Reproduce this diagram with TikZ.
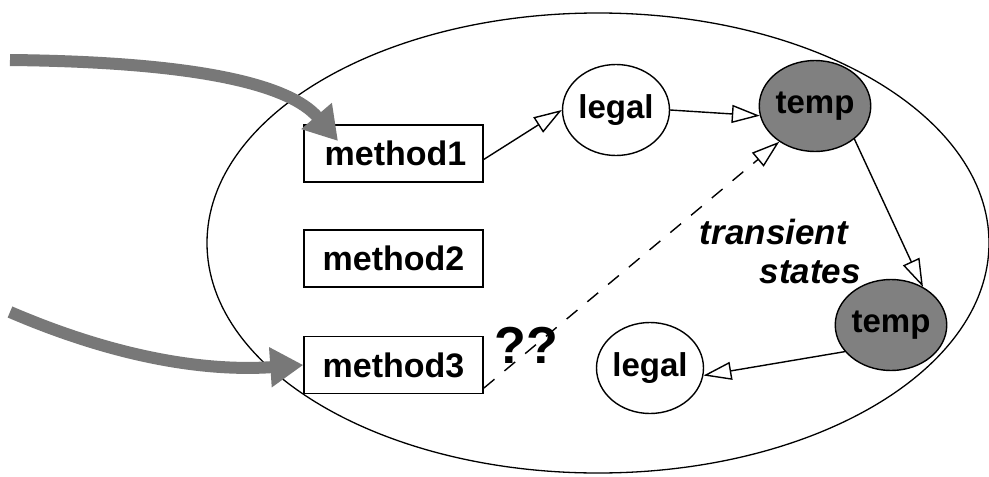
\documentclass[tikz,border=0pt]{standalone}
\usepackage{fontspec}
\setmainfont{Liberation Sans}
\usetikzlibrary{arrows.meta,shapes.geometric}
\definecolor{stategray}{RGB}{128,128,128}
\definecolor{arrowgray}{RGB}{120,120,120}
\tikzset{
  mbox/.style={draw, line width=1.4pt, minimum width=179pt, minimum height=57pt, inner sep=0pt, font=\fontsize{34}{40}\selectfont\bfseries},
  st/.style={draw, ellipse, line width=1.4pt, minimum width=107pt, minimum height=91pt, inner sep=0pt, font=\fontsize{33}{40}\selectfont\bfseries},
  tmp/.style={st, fill=stategray},
  trans/.style={line width=1.4pt, -{Triangle[length=28pt,width=18pt,fill=white,line width=1.4pt]}},
  bigarrow/.style={line width=12pt, arrowgray, -{Triangle[length=33pt,width=38pt]}},
  lbl/.style={font=\fontsize{35}{40}\selectfont\bfseries\itshape, inner sep=0pt}
}
\begin{document}
\begin{tikzpicture}[x=1pt,y=-1pt]
\useasboundingbox[fill=white] (0,0) rectangle (989,477);
\node[draw, ellipse, line width=1.3pt, minimum width=782pt, minimum height=460pt, inner sep=0pt] (sys) at (598,243) {};
\node[mbox] (m1) at (393.5,153.5) {\hspace*{4pt}method1};
\node[mbox] (m2) at (393.5,258.5) {method2};
\node[mbox] (m3) at (393.5,365) {method3};
\node[st] (l1) at (616,110) {legal};
\node[tmp] (t1) at (815,106) {temp};
\node[tmp] (t2) at (891,325) {temp};
\node[st] (l2) at (650,368) {legal};
\node[lbl, anchor=east] (tr) at (848,232) {transient};
\node[lbl, anchor=east] (ss) at (861,272) {states};
\node[font=\fontsize{52}{56}\selectfont\bfseries, inner sep=0pt] (qq) at (526,345) {??};
\coordinate (a1) at (10,60);
\coordinate (a2) at (10,312);
\coordinate (e1) at (338,141);
\draw[bigarrow] (a1) .. controls (200,62) and (290,85) .. (e1);
\draw[bigarrow] (a2) .. controls (110,355) and (200,372) .. (m3.west);
\draw[trans] ([yshift=-6pt]m1.east) -- (l1.west);
\draw[trans] (l1.east) -- (t1.190);
\draw[trans] (t1.-40) -- (t2.50);
\draw[trans] (t2.210) -- (l2.-8);
\draw[trans, dash pattern=on 14pt off 13pt] ([yshift=6pt]m3.south east) -- (t1.225);
\end{tikzpicture}
\end{document}
